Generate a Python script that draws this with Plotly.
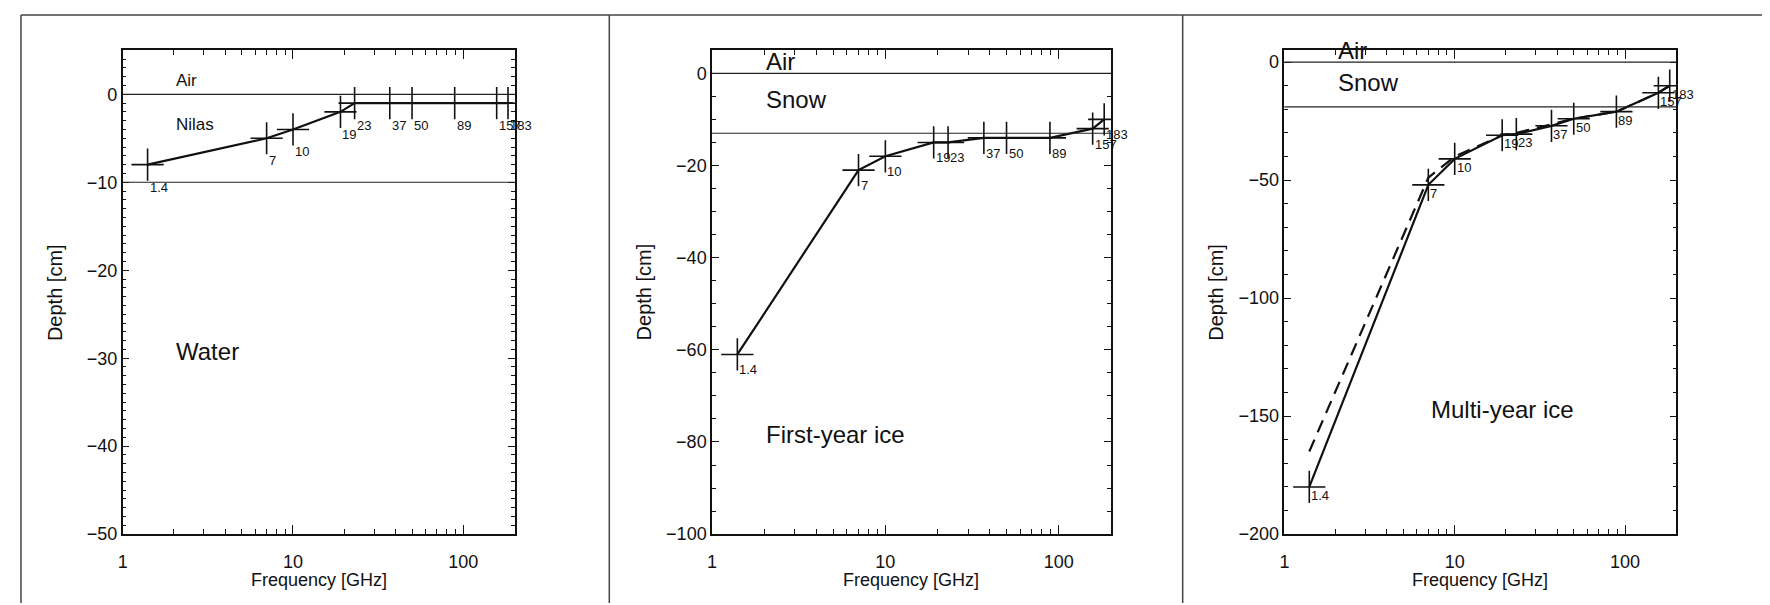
import numpy as np
import plotly.graph_objects as go

# ---------------- data ----------------
freq = [1.4, 7, 10, 19, 23, 37, 50, 89, 157, 183]
freq_labels = ["1.4", "7", "10", "19", "23", "37", "50", "89", "157", "183"]

depth_nilas = [-8, -5, -4, -2, -1, -1, -1, -1, -1, -1]
depth_fyi = [-61, -21, -18, -15, -15, -14, -14, -14, -12, -10]
depth_myi = [-180, -52, -41, -31, -30.5, -27, -24, -21, -13, -10]
depth_myi_alt = [-165, -49, -40, -31, -30, -26.5, -24, -21, -13, -10]

bounds_nilas = [0, -10]
bounds_fyi = [0, -13]
bounds_myi = [0, -19]

yrange_nilas = [-50, 5]
yrange_fyi = [-100, 5]
yrange_myi = [-200, 5]
ytick_major = [10, 20, 50]
ytick_minor = [1, 5, 10]

x_tickvals = [1, 10, 100]
x_ticktext = ["1", "10", "100"]
x_minorvals = [2, 3, 4, 5, 6, 7, 8, 9, 20, 30, 40, 50, 60, 70, 80, 90, 200]
x_range = [1, 200]

region_labels_nilas = [("Air", 2, 1.6), ("Nilas", 2, -3.4), ("Water", 2, -29.2)]
region_labels_fyi = [("Air", 2, 2.6), ("Snow", 2, -5.7), ("First-year ice", 2, -78.3)]
region_labels_myi = [("Air", 2, 4.9), ("Snow", 2, -8.8), ("Multi-year ice", 7.05, -147.2)]

xlabel = "Frequency [GHz]"
ylabel = "Depth [cm]"

# ---------------- layout geometry (pixels) ----------------
W, H = 1770, 605
panels_px = [(110, 503), (701, 1101), (1275, 1668)]
top_px, bot_px = 43, 535
region_font = [[17, 17, 24], [24, 24, 24], [24, 24, 24]]
label_yshift = [-13, -6, 1]
FONT = "Liberation Sans"
INK = "#111111"

def px2x(p):
    return p / W

def px2y(p):
    return 1 - p / H

fig = go.Figure()
annotations = []
shapes = []

panel_data = [
    (depth_nilas, None, bounds_nilas, yrange_nilas, region_labels_nilas),
    (depth_fyi, None, bounds_fyi, yrange_fyi, region_labels_fyi),
    (depth_myi, depth_myi_alt, bounds_myi, yrange_myi, region_labels_myi),
]

for i, (depth, alt, bounds, yr, regions) in enumerate(panel_data):
    k = "" if i == 0 else str(i + 1)
    xa, ya = "x" + k, "y" + k
    # connecting lines
    if alt is not None:
        fig.add_trace(go.Scatter(x=freq, y=alt, mode="lines", xaxis=xa, yaxis=ya,
                                 line=dict(color=INK, width=2.2, dash="13px,8px"),
                                 showlegend=False, hoverinfo="skip"))
    fig.add_trace(go.Scatter(x=freq, y=depth, mode="lines", xaxis=xa, yaxis=ya,
                             line=dict(color=INK, width=2.2),
                             showlegend=False, hoverinfo="skip"))
    # cross markers
    fig.add_trace(go.Scatter(x=freq, y=depth, mode="markers", xaxis=xa, yaxis=ya,
                             marker=dict(symbol="cross-thin", size=23,
                                         line=dict(color=INK, width=1.6)),
                             showlegend=False, hoverinfo="skip"))
    # frequency labels
    for f, d, lab in zip(freq, depth, freq_labels):
        annotations.append(dict(x=np.log10(f), y=d, xref=xa, yref=ya, text=lab,
                                showarrow=False, xanchor="left", yanchor="top",
                                xshift=0, yshift=label_yshift[i],
                                font=dict(family=FONT, size=13, color=INK)))
    # layer boundaries
    for b in bounds:
        shapes.append(dict(type="line", xref=xa + " domain", yref=ya, x0=0, x1=1,
                           y0=b, y1=b, line=dict(color="#222222", width=1.2)))
    # region names
    for (txt, fx, fy), fs in zip(regions, region_font[i]):
        annotations.append(dict(x=np.log10(fx), y=fy, xref=xa, yref=ya, text=txt,
                                showarrow=False, xanchor="left", yanchor="middle",
                                font=dict(family=FONT, size=fs, color=INK)))
    # axis titles
    annotations.append(dict(x=0.5, y=px2y(582), xref=xa + " domain", yref="paper",
                            text=xlabel, showarrow=False, xanchor="center", yanchor="middle",
                            font=dict(family=FONT, size=18, color=INK)))
    l, r = panels_px[i]
    annotations.append(dict(x=px2x(l - 68), y=0.5 * (px2y(top_px) + px2y(bot_px)),
                            xref="paper", yref="paper", text=ylabel, textangle=-90,
                            showarrow=False, xanchor="center", yanchor="middle",
                            font=dict(family=FONT, size=20, color=INK)))

    axis_common = dict(showgrid=False, zeroline=False, showline=True, linecolor=INK,
                       linewidth=1.5, mirror="ticks", ticks="inside", tickcolor=INK,
                       tickwidth=1.2, tickfont=dict(family=FONT, size=18, color=INK))
    fig.update_layout(**{
        "xaxis" + k: dict(axis_common, type="log", range=[np.log10(x_range[0]), np.log10(x_range[1])],
                          domain=[px2x(l), px2x(r)], anchor=ya,
                          tickvals=x_tickvals, ticktext=x_ticktext, ticklen=9,
                          ticklabelstandoff=10,
                          minor=dict(tickvals=x_minorvals, ticks="inside", ticklen=5,
                                     tickcolor=INK, tickwidth=1.2)),
        "yaxis" + k: dict(axis_common, range=yr, domain=[px2y(bot_px), px2y(top_px)],
                          anchor=xa, dtick=ytick_major[i], ticklen=7,
                          minor=dict(dtick=ytick_minor[i], ticks="inside", ticklen=4,
                                     tickcolor=INK, tickwidth=1.2)),
    })

# outer frame lines
frame = "#444444"
shapes.append(dict(type="line", xref="paper", yref="paper", x0=px2x(8), x1=1,
                   y0=px2y(7), y1=px2y(7), line=dict(color=frame, width=1.5)))
for xp in [8, 598, 1173]:
    shapes.append(dict(type="line", xref="paper", yref="paper", x0=px2x(xp), x1=px2x(xp),
                       y0=px2y(7), y1=0, line=dict(color=frame, width=1.5)))

fig.update_layout(width=W, height=H, margin=dict(l=0, r=0, t=0, b=0),
                  paper_bgcolor="white", plot_bgcolor="white",
                  annotations=annotations, shapes=shapes, showlegend=False,
                  font=dict(family=FONT, color=INK))

fig.write_html("out.html")
